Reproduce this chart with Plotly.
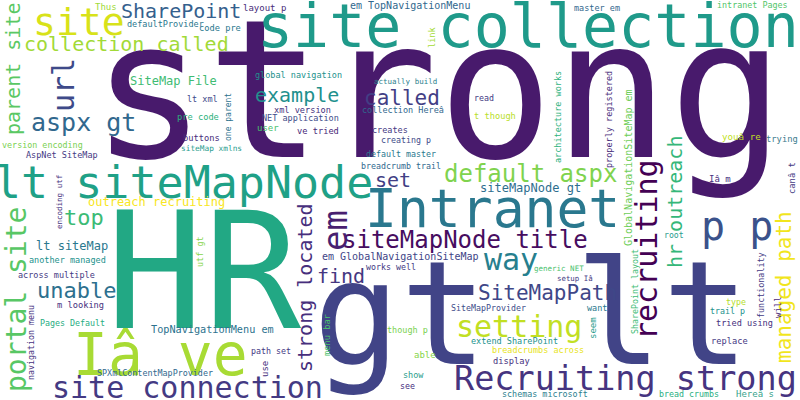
import plotly.graph_objects as go

# Word cloud: words, font size (weight), centre position, rotation, colour
WORDS = [
    "strong", "HR", "gt lt", "site collection", "site", "SharePoint",
    "collection called", "parent site", "url", "aspx gt", "lt siteMapNode",
    "Intranet", "siteMapNode title", "way", "SiteMapPath", "setting",
    "default aspx", "siteMapNode gt", "called", "example", "set", "em",
    "strong located", "find", "p p", "recruiting", "hr outreach",
    "managed path", "Iâ ve", "site connection", "Recruiting strong", "top",
    "unable", "lt siteMap", "portal site", "outreach recruiting",
    "GlobalNavigationSiteMap em", "em GlobalNavigationSiteMap",
    "TopNavigationMenu em", "em TopNavigationMenu",
    # small words
    "Thus", "layout p", "defaultProvider", "code pre", "SiteMap File",
    "global navigation", "lt xml", "pre code", "one parent", "xml version",
    "NET application", "user", "ve tried", "version encoding", "buttons",
    "AspNet SiteMap", "siteMap xmlns", "actually build", "collection Hereâ",
    "creates", "creating p", "default master", "breadcrumb trail", "read",
    "t though", "link", "master em", "intranet Pages", "architecture works",
    "properly registered", "youâ re", "trying", "Iâ m", "canâ t",
    "another managed", "across multiple", "m looking", "Pages Default",
    "navigation menu", "encoding utf", "utf gt", "SPXmlContentMapProvider",
    "path set", "use", "menu bar", "works well", "though p", "able", "show",
    "see", "generic NET", "setup Iâ", "SiteMapProvider", "want", "seem",
    "SharePoint layout", "extend SharePoint", "breadcrumbs across",
    "display", "schemas microsoft", "bread crumbs", "Hereâ s", "root",
    "functionality", "will", "type", "trail p", "tried using", "replace",
]

SIZES = [
    192, 162, 145, 60, 38, 20,
    20, 20, 30, 25, 45,
    53, 24, 30, 21, 30,
    24, 12, 21, 20, 20, 34,
    20, 20, 40, 30, 20,
    21, 58, 30, 33.5, 22,
    22, 12, 28, 12,
    10, 10,
    10.2, 10,
    9, 9, 8.5, 8.7, 12,
    8.5, 8.5, 8.7, 8, 8.6,
    8.5, 9, 8.7, 8.4, 8.7,
    8.5, 7.8, 7.5, 8.5,
    8.5, 8.3, 8.3, 8.3, 8.3,
    8.7, 8.6, 8.5, 8.4, 8.5,
    8.5, 9.2, 8.8, 9, 8.8,
    8.5, 8.5, 8.7, 8.3,
    8.3, 7.5, 8.5, 8.4,
    8.3, 9, 8.7, 8.3, 8.5, 9, 8.5,
    8.3, 7.5, 7.4, 8.3, 8.5, 9,
    8.3, 8.5, 8.5,
    8.7, 8.4, 8.3, 9, 8.2,
    8.4, 9, 8.3, 8.3, 8.6, 8.7,
]

X = [
    438, 204, 531, 528, 79, 181,
    126, 13, 63, 83, 183,
    492, 465, 511, 547, 519,
    530, 530, 402, 297, 393, 335,
    305, 341, 737, 646, 675,
    784, 160, 187, 625, 84,
    76, 72, 16, 156,
    628, 400,
    212, 410,
    106, 264, 165, 220, 173,
    298, 202, 198, 228, 302,
    300, 268, 318, 42, 201,
    62, 211, 405, 403,
    390, 406, 401, 401, 484,
    495, 432, 597, 752, 558,
    609, 741, 782, 720, 792,
    67, 56, 80, 72,
    31, 59, 200, 155,
    271, 265, 327, 391, 407, 425, 413,
    407, 559, 575, 488, 597, 593,
    635, 514, 538,
    511, 545, 689, 755, 674,
    761, 778, 736, 727, 744, 729,
]

Y = [
    90, 272, 313, 26, 22, 11,
    44, 69, 85, 122, 182,
    208, 240, 259, 293, 326,
    174, 188, 98, 95, 180, 231,
    288, 276, 226, 250, 202,
    287, 355, 387, 378, 217,
    290, 246, 300, 202,
    168, 256,
    329, 5,
    7, 8, 23.5, 28, 81,
    75, 99, 117, 117, 110,
    118, 128, 131, 145, 138,
    155, 148, 81, 110,
    130, 140, 154, 166, 98,
    116, 37, 8, 5, 117,
    120, 136, 139, 179, 178,
    260, 275, 305, 323,
    343, 202, 252, 373,
    351, 369, 335, 267, 330, 355, 375,
    386, 268, 278, 308, 308, 328,
    292, 341, 350,
    361, 394, 394, 394, 235,
    285, 307, 302, 311, 323, 341,
]

ANGLES = [
    0, 0, 0, 0, 0, 0,
    0, -90, -90, 0, 0,
    0, 0, 0, 0, 0,
    0, 0, 0, 0, 0, -90,
    -90, 0, 0, -90, -90,
    -90, 0, 0, 0, 0,
    0, 0, -90, 0,
    -90, 0,
    0, 0,
    0, 0, 0, 0, 0,
    0, 0, 0, -90, 0,
    0, 0, 0, 0, 0,
    0, 0, 0, 0,
    0, 0, 0, 0, 0,
    0, -90, 0, 0, -90,
    -90, 0, 0, 0, -90,
    0, 0, 0, 0,
    -90, -90, -90, 0,
    0, -90, -90, 0, 0, 0, 0,
    0, 0, 0, 0, 0, -90,
    -90, 0, 0,
    0, 0, 0, 0, 0,
    -90, -90, 0, 0, 0, 0,
]

COLORS = [
    "#481a6c", "#22a884", "#414487", "#1f9a8a", "#d8e219", "#35608d",
    "#a2da37", "#5ac864", "#3e4a89", "#31688e", "#1fa187",
    "#2a788e", "#470d60", "#277f8e", "#3f4788", "#c2df23",
    "#7fd34e", "#2e6e8e", "#433e85", "#21908d", "#423f85", "#481f70",
    "#472f7d", "#453781", "#3b528b", "#440154", "#35b779",
    "#f1e51d", "#a8db34", "#443a83", "#463480", "#3cbb75",
    "#2d708e", "#2a788e", "#58c765", "#f8e621",
    "#6ece58", "#414487",
    "#2c728e", "#31688e",
    "#a0da39", "#472c7a", "#2a788e", "#2a788e", "#3fbc73",
    "#21918c", "#3e4a89", "#2db27d", "#2c728e", "#46327e",
    "#3e4c8a", "#4ac16d", "#482878", "#7ad151", "#472d7b",
    "#443983", "#2a9d8e", "#2c7f8e", "#31688e",
    "#443983", "#3e4a89", "#2a788e", "#31688e", "#443983",
    "#b8de29", "#a5db36", "#31688e", "#52c569", "#2db27d",
    "#472d7b", "#c2df23", "#3b7b8e", "#46307e", "#443983",
    "#21918c", "#443983", "#46307e", "#27ad81",
    "#46307e", "#46307e", "#86d549", "#31688e",
    "#443983", "#46307e", "#4ac16d", "#443983", "#7ad151", "#86d549", "#2a9d8c",
    "#46307e", "#4ac16d", "#443983", "#3e4c8a", "#2a788e", "#2a9d8e",
    "#3dbc74", "#21918c", "#e8e419",
    "#46307e", "#2c7f8e", "#29af7f", "#37a38b", "#2a9d8e",
    "#443983", "#482878", "#b5de2b", "#21918c", "#46307e", "#443983",
]

FONT = "DejaVu Sans Mono"


def main():
    fig = go.Figure()

    annotations = []
    for word, size, x, y, ang, col in zip(WORDS, SIZES, X, Y, ANGLES, COLORS):
        annotations.append(dict(
            text=word,
            x=x, y=y,
            xref="x", yref="y",
            xanchor="center", yanchor="middle",
            textangle=ang,
            showarrow=False,
            font=dict(family=FONT, size=size, color=col),
        ))

    fig.update_layout(
        width=800,
        height=400,
        margin=dict(l=0, r=0, t=0, b=0),
        paper_bgcolor="white",
        plot_bgcolor="white",
        xaxis=dict(range=[0, 800], visible=False, fixedrange=True),
        yaxis=dict(range=[400, 0], visible=False, fixedrange=True),
        annotations=annotations,
        showlegend=False,
    )

    # page body margin would push the 800x400 canvas off by 8px
    fig.write_html(
        "out.html",
        config={"displayModeBar": False},
        post_script="document.body.style.margin='0';",
    )


if __name__ == "__main__":
    main()
